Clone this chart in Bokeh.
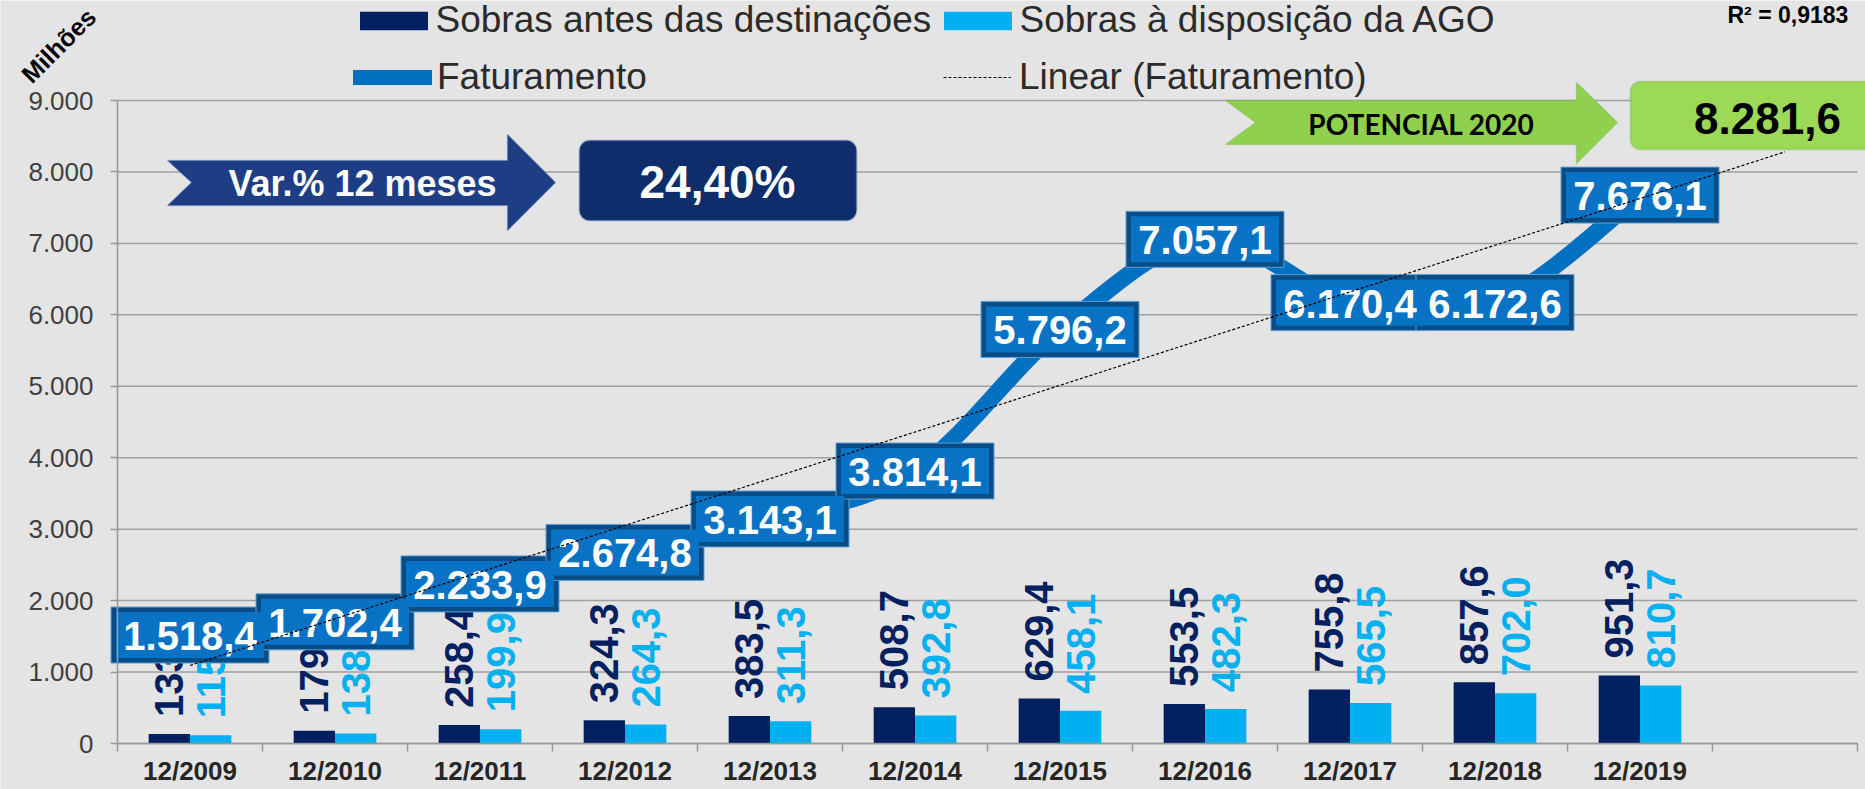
import numpy as np
from bokeh.plotting import figure
from bokeh.models import (Range1d, FixedTicker, Legend, LegendItem, Label,
                          PolyAnnotation, BoxAnnotation)
from bokeh.core.properties import value
from bokeh.embed import file_html
from bokeh.resources import INLINE

# ---------------- data ----------------
categories = ["12/2009", "12/2010", "12/2011", "12/2012", "12/2013", "12/2014",
              "12/2015", "12/2016", "12/2017", "12/2018", "12/2019"]
sobras_antes = [133.3, 179.0, 258.4, 324.3, 383.5, 508.7, 629.4, 553.5, 755.8, 857.6, 951.3]
sobras_ago = [115.4, 138.6, 199.9, 264.3, 311.3, 392.8, 458.1, 482.3, 565.5, 702.0, 810.7]
faturamento = [1518.4, 1702.4, 2233.9, 2674.8, 3143.1, 3814.1, 5796.2, 7057.1, 6170.4, 6172.6, 7676.1]
y_ticks = [0, 1000, 2000, 3000, 4000, 5000, 6000, 7000, 8000, 9000]
y_max = 9000
n_slots = 12  # 11 years + empty 2020 slot for the trend projection
var_text = "24,40%"
potencial_text = "8.281,6"
r2_text = "R² = 0,9183"

FONT = "Liberation Sans"
W, H = 1865, 789


def br(v, d=1):
    s = f"{v:,.{d}f}"
    return s.replace(",", "X").replace(".", ",").replace("X", ".")


def br_int(v):
    return f"{int(v):,}".replace(",", ".")


# page-pixel -> data helpers (the frame covers the whole page; axes sit at x=0 / y=0)
AX_X, AX_Y, TOP_Y = 117.0, 743.0, 100.0
PXU = 145.0
PYU = (AX_Y - TOP_Y) / y_max


def dx(px):
    return (px - AX_X) / PXU


def dy(py):
    return (AX_Y - py) / PYU


xc = np.arange(len(categories)) + 0.5
off = 0.1425
bw = 0.285

p = figure(width=W, height=H, x_range=Range1d(dx(0), dx(W)), y_range=Range1d(dy(H), dy(0)),
           output_backend="svg", toolbar_location=None,
           min_border_left=0, min_border_right=0, min_border_top=0, min_border_bottom=0,
           background_fill_color="#e4e4e4", border_fill_color="#e4e4e4")
p.outline_line_color = None
p.grid.visible = False

# ---------------- axes ----------------
p.xaxis.fixed_location = 0
p.xaxis.bounds = (0, n_slots)
p.xaxis.ticker = FixedTicker(ticks=list(xc), minor_ticks=list(range(n_slots + 1)))
p.xaxis.major_label_overrides = {float(x): c for x, c in zip(xc, categories)}
p.xaxis.major_tick_line_color = None
p.xaxis.major_tick_out = 0
p.xaxis.major_tick_in = 0
p.xaxis.minor_tick_line_color = "#999999"
p.xaxis.minor_tick_line_width = 1.5
p.xaxis.minor_tick_out = 8
p.xaxis.minor_tick_in = 0
p.xaxis.axis_line_color = "#999999"
p.xaxis.axis_line_width = 1.5
p.xaxis.major_label_text_font = FONT
p.xaxis.major_label_text_font_size = "26px"
p.xaxis.major_label_text_font_style = "bold"
p.xaxis.major_label_text_color = "#262626"
p.xaxis.major_label_standoff = 4

p.yaxis.fixed_location = 0
p.yaxis.bounds = (0, y_max)
p.yaxis.ticker = FixedTicker(ticks=y_ticks, minor_ticks=[])
p.yaxis.major_label_overrides = {t: br_int(t) for t in y_ticks}
p.yaxis.major_tick_out = 7
p.yaxis.major_tick_in = 0
p.yaxis.major_tick_line_color = "#999999"
p.yaxis.major_tick_line_width = 1.5
p.yaxis.axis_line_color = "#999999"
p.yaxis.axis_line_width = 1.5
p.yaxis.major_label_text_font = FONT
p.yaxis.major_label_text_font_size = "26px"
p.yaxis.major_label_text_color = "#404040"
p.yaxis.major_label_standoff = 17

# horizontal gridlines, only across the plotting slots
p.segment(x0=[0] * len(y_ticks), x1=[n_slots] * len(y_ticks), y0=y_ticks, y1=y_ticks,
          line_color="#a0a0a0", line_width=1.5)

# ---------------- bars ----------------
r_antes = p.vbar(x=xc - off, top=sobras_antes, width=bw, fill_color="#002060", line_color=None)
r_ago = p.vbar(x=xc + off, top=sobras_ago, width=bw, fill_color="#00B0F0", line_color=None)

p.text(x=xc - off, y=sobras_antes, text=[br(v) for v in sobras_antes], angle=np.pi / 2,
       text_align="left", text_baseline="middle", y_offset=-17,
       text_font=value(FONT), text_font_style="bold", text_font_size="40px", text_color="#002060")
p.text(x=xc + off, y=sobras_ago, text=[br(v) for v in sobras_ago], angle=np.pi / 2,
       text_align="left", text_baseline="middle", y_offset=-17,
       text_font=value(FONT), text_font_style="bold", text_font_size="40px", text_color="#00B0F0")

# ---------------- smoothed faturamento line (Bezier through the data points) ----------------
pts = np.column_stack([xc, np.array(faturamento, dtype=float)])
n = len(pts)
x0, y0, x1, y1, cx0, cy0, cx1, cy1 = ([] for _ in range(8))
for i in range(n - 1):
    P0 = pts[i - 1] if i > 0 else pts[i]
    P1 = pts[i]
    P2 = pts[i + 1]
    P3 = pts[i + 2] if i + 2 < n else pts[i + 1]
    c1 = P1 + (P2 - P0) / 6.0
    c2 = P2 - (P3 - P1) / 6.0
    x0.append(P1[0]); y0.append(P1[1]); x1.append(P2[0]); y1.append(P2[1])
    cx0.append(c1[0]); cy0.append(c1[1]); cx1.append(c2[0]); cy1.append(c2[1])
p.bezier(x0=x0, y0=y0, x1=x1, y1=y1, cx0=cx0, cy0=cy0, cx1=cx1, cy1=cy1,
         line_color="#0070C0", line_width=17, line_cap="round")
# single-point line used only as the legend swatch (hidden under the first value box)
r_fat_leg = p.line(x=[xc[0]], y=[faturamento[0]], line_color="#0070C0", line_width=15,
                   line_cap="round", line_join="round")

# value boxes
p.rect(x=xc, y=faturamento, width=158, height=56, width_units="screen", height_units="screen",
       fill_color="#0a4c86", line_color="#5f9fd6", line_width=1)
p.rect(x=xc, y=faturamento, width=148, height=46, width_units="screen", height_units="screen",
       fill_color="#0873c4", line_color=None)
p.text(x=xc, y=faturamento, text=[br(v) for v in faturamento], text_align="center",
       text_baseline="middle", y_offset=1, text_font=value(FONT), text_font_style="bold",
       text_font_size="40px", text_color="white")

# ---------------- linear trend ----------------
xi = np.arange(1, len(faturamento) + 1)
coef = np.polyfit(xi, faturamento, 1)
tx = [xc[0], n_slots - 0.5]
ty = list(np.polyval(coef, [1, n_slots]))
r_trend = p.line(x=tx, y=ty, line_color="black", line_width=1.2, line_dash="3 2")

# ---------------- legends ----------------
LH = 48


def make_legend(label, rend, px_left, py_center, gw, gh, standoff):
    lg = Legend(items=[LegendItem(label=label, renderers=[rend])],
                location=(px_left, H - (py_center + LH / 2)),
                padding=0, margin=0, spacing=0, label_height=LH, glyph_height=gh, glyph_width=gw,
                label_standoff=standoff, label_text_font=FONT, label_text_font_size="37px",
                label_text_color="#2b2b2b", background_fill_alpha=0, border_line_color=None)
    p.add_layout(lg)


# area swatches are drawn inset by 10% on each side, hence the larger glyph boxes
make_legend("Sobras antes das destinações", r_antes, 350.5, 20, 85, 23, 0)
make_legend("Sobras à disposição da AGO", r_ago, 934.5, 20, 85, 23, 0)
make_legend("Faturamento", r_fat_leg, 353, 77, 79, 18, 5)
make_legend("Linear (Faturamento)", r_trend, 943, 77, 68, 18, 8)

# ---------------- decorations ----------------
p.add_layout(Label(x=dx(58), y=dy(45), text="Milhões", angle=np.pi / 4, text_align="center",
                   text_baseline="middle", text_font=FONT, text_font_style="bold",
                   text_font_size="25px", text_color="black"))
p.add_layout(Label(x=dx(1727), y=dy(14), text=r2_text, text_align="left", text_baseline="middle",
                   text_font=FONT, text_font_style="bold", text_font_size="23px", text_color="black"))

# Var.% arrow
ax = [167, 507, 507, 555, 507, 507, 167, 191]
ay = [160, 160, 134, 182, 230, 205, 205, 182]
p.add_layout(PolyAnnotation(xs=[dx(v) for v in ax], ys=[dy(v) for v in ay],
                            fill_color="#1d3d84", fill_alpha=1, line_color="#4a6db3", line_width=1.5))
p.add_layout(Label(x=dx(362), y=dy(183), text="Var.% 12 meses", text_align="center",
                   text_baseline="middle", text_font=FONT, text_font_style="bold",
                   text_font_size="36px", text_color="white"))
p.add_layout(BoxAnnotation(left=dx(579), right=dx(856), top=dy(140), bottom=dy(220),
                           fill_color="#0f2c6b", fill_alpha=1, line_color="#3d5fa6", line_width=2,
                           border_radius=10))
p.add_layout(Label(x=dx(717), y=dy(181), text=var_text, text_align="center",
                   text_baseline="middle", text_font=FONT, text_font_style="bold",
                   text_font_size="46px", text_color="white"))

# POTENCIAL 2020 arrow
gx = [1225, 1576, 1576, 1617, 1576, 1576, 1225, 1255]
gy = [100, 100, 82, 122, 163, 144, 144, 122]
p.add_layout(PolyAnnotation(xs=[dx(v) for v in gx], ys=[dy(v) for v in gy],
                            fill_color="#8fd14f", fill_alpha=1, line_color="#6aa83a", line_width=1.5))
p.add_layout(Label(x=dx(1421), y=dy(123), text="POTENCIAL 2020", text_align="center",
                   text_baseline="middle", text_font="Lato", text_font_style="bold",
                   text_font_size="28px", text_color="black"))
p.add_layout(BoxAnnotation(left=dx(1630), right=dx(1885), top=dy(81), bottom=dy(149),
                           fill_color="#9bd957", fill_alpha=1, line_color="#74b13f", line_width=2,
                           border_radius=10))
p.add_layout(Label(x=dx(1767), y=dy(118), text=potencial_text, text_align="center",
                   text_baseline="middle", text_font=FONT, text_font_style="bold",
                   text_font_size="44px", text_color="black"))

open("out.html", "w").write(file_html(p, INLINE))
